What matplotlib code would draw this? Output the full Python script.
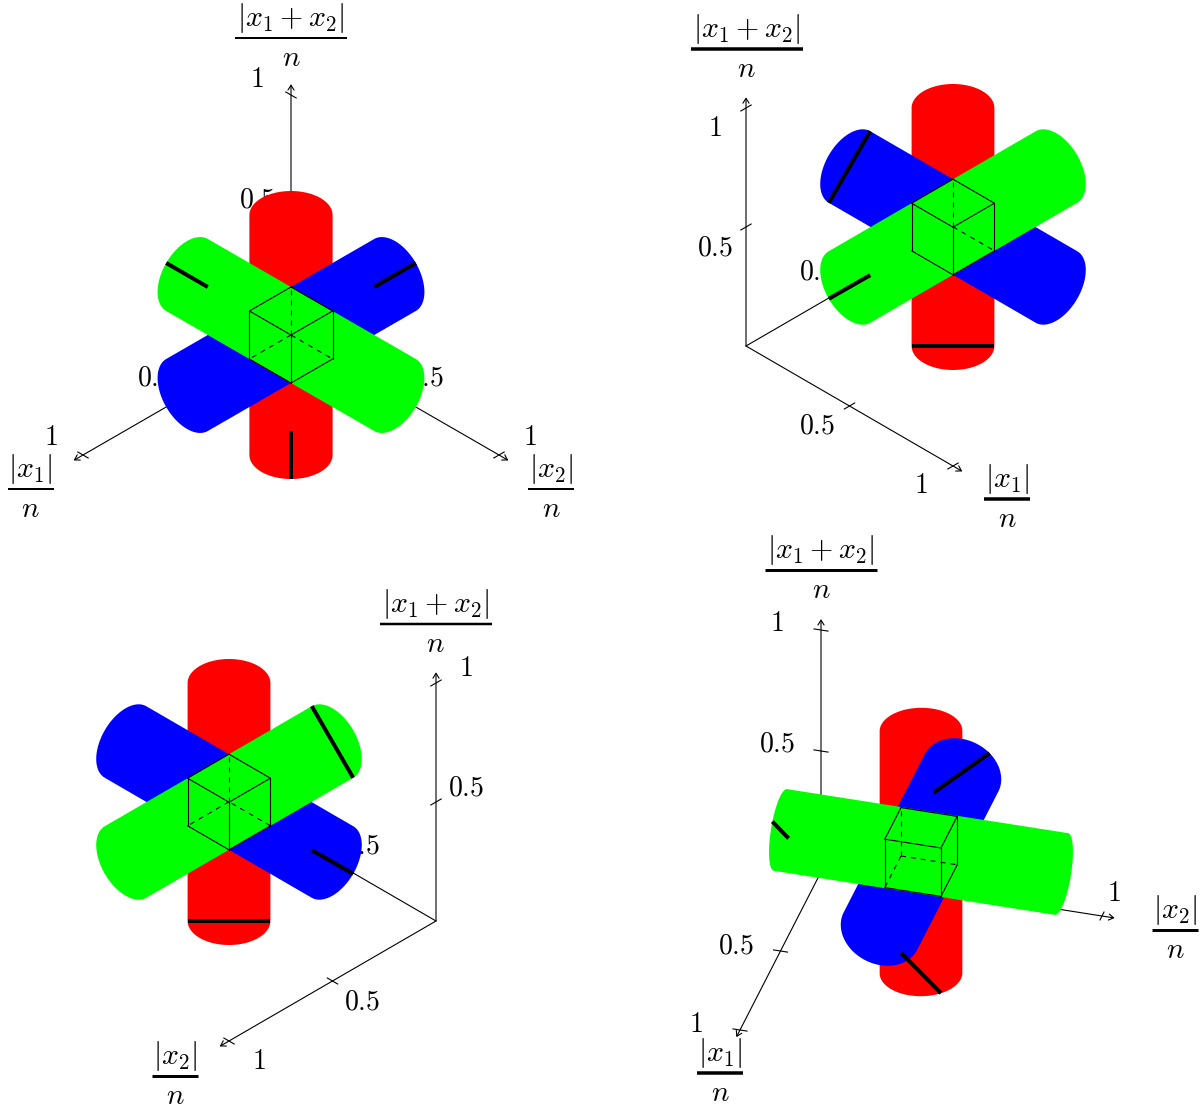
import numpy as np
import matplotlib
matplotlib.use('Agg')
import matplotlib.pyplot as plt

plt.rcParams['mathtext.fontset'] = 'cm'

# Model: cube in the middle of the unit box, three cylinders through it
cube_lo = 0.4
cube_hi = 0.6
cyl_radius = 0.1 * np.sqrt(2)
axis_end = 1.045
tick_vals = [0.5, 1.0]
tick_half = 0.025
cyl_colors = ['#0000ff', '#00ff00', '#ff0000']   # along x1, x2, x1+x2
draw_order = [2, 0, 1]

# Per panel view, in pixels: origin and the image of each unit vector
origins = [(291, 335), (746, 346), (436, 921), (821, 872)]
ex = [(-208, 120), (207, 120), (-207, -120), (-81, 158)]
ey = [(208, 120), (207, -120), (-207, 120), (281, 44)]
ez = [(0, -240), (0, -238), (0, -238), (0, -242)]
hidden_vertex = [(0.4, 0.4, 0.4), (0.4, 0.6, 0.4), (0.6, 0.4, 0.4), (0.4, 0.4, 0.4)]
hidden_edges = [[0, 1, 2], [0, 2], [0, 1, 2], [0, 1, 2]]

# Label positions: offset of tick labels from their tick, fraction bar centres
tick_offsets = [
    [(-32, -18), (31, -18), (-34, -16)],
    [(-32, 19), (-32, -15), (-31, 20)],
    [(30, -15), (30, 20), (30, -15)],
    [(-44, -6), (12, -23), (-44, -7)],
]
title_x1 = [(30.5, 489), (1007, 499), (220, 770), (720, 1073)]
title_x2 = [(551, 489), (985, 230), (175, 1076), (1175, 930)]
title_z = [(291, 38), (746.5, 49), (435.5, 624), (821, 570)]
bar_px_x1 = [2, 3.5, 2, 3.5]
bar_px_x2 = [2, 2, 3, 3]
bar_px_z = [2, 3.5, 2.5, 3]

num_x1 = r'$|x_1|$'
num_x2 = r'$|x_2|$'
num_z = r'$|x_1+x_2|$'
den = r'$n$'
num_width = [46, 46, 112]


def hull(pts):
    pts = sorted(map(tuple, pts))
    def half(seq):
        out = []
        for p in seq:
            while len(out) > 1:
                a, b = out[-2], out[-1]
                if (b[0]-a[0])*(p[1]-a[1]) - (b[1]-a[1])*(p[0]-a[0]) > 0:
                    break
                out.pop()
            out.append(p)
        return out[:-1]
    return np.array(half(pts) + half(pts[::-1]))


fig = plt.figure(figsize=(12.04, 11.08), dpi=100)
ax = fig.add_axes([0, 0, 1, 1])
ax.set_xlim(0, 1204)
ax.set_ylim(1108, 0)
ax.axis('off')

for i in range(4):
    O = np.array(origins[i], float)
    basis = np.array([ex[i], ey[i], ez[i]], float)

    def proj(p):
        return O + np.asarray(p, float) @ basis

    # axes, arrows, ticks, labels sit under the cylinders
    cross = [1, 0, 1]   # tick direction for each axis
    for k in range(3):
        tip = np.zeros(3)
        tip[k] = axis_end
        ax.annotate('', xy=proj(tip), xytext=proj([0, 0, 0]), zorder=1,
                    arrowprops=dict(arrowstyle='->,head_length=0.35,head_width=0.22',
                                    lw=0.8, color='black', shrinkA=0, shrinkB=0))
        for val in tick_vals:
            p = np.zeros(3)
            p[k] = val
            d = np.zeros(3)
            d[cross[k]] = tick_half
            a, b = proj(p - d), proj(p + d)
            ax.plot([a[0], b[0]], [a[1], b[1]], color='black', lw=0.8, zorder=1)
            c = proj(p) + np.array(tick_offsets[i][k])
            txt = '$0.5$' if val == 0.5 else '$1$'
            ax.text(c[0], c[1], txt, fontsize=20, ha='center', va='center', zorder=1)

    titles = zip([title_x1[i], title_x2[i], title_z[i]], [num_x1, num_x2, num_z],
                 [bar_px_x1[i], bar_px_x2[i], bar_px_z[i]], num_width)
    for pos, num, thick, w in titles:
        ax.text(pos[0], pos[1] - 20, num, fontsize=21.5, ha='center', va='center', zorder=1)
        ax.plot([pos[0] - w/2, pos[0] + w/2], [pos[1], pos[1]], color='black',
                lw=thick*0.72, solid_capstyle='butt', zorder=1)
        ax.text(pos[0], pos[1] + 20, den, fontsize=21, ha='center', va='center', zorder=1)

    # cylinders: silhouette is the hull of the two end circles
    t = np.linspace(0, 2*np.pi, 120, endpoint=False)
    for k in draw_order:
        others = [j for j in range(3) if j != k]
        pts = []
        for end in (0.0, 1.0):
            p = np.full((t.size, 3), 0.5)
            p[:, k] = end
            p[:, others[0]] += cyl_radius*np.cos(t)
            p[:, others[1]] += cyl_radius*np.sin(t)
            pts.append(proj(p))
        h = hull(np.vstack(pts))
        ax.fill(h[:, 0], h[:, 1], color=cyl_colors[k], lw=0, zorder=3)

    # thick diagonal on the end cap at 0 of each cylinder
    for k in range(3):
        a = np.full(3, cube_lo)
        b = np.full(3, cube_hi)
        a[k] = b[k] = 0
        a, b = proj(a), proj(b)
        ax.plot([a[0], b[0]], [a[1], b[1]], color='black', lw=2.9,
                solid_capstyle='butt', zorder=4)

    # cube
    hv = np.array(hidden_vertex[i])
    for c1 in (cube_lo, cube_hi):
        for c2 in (cube_lo, cube_hi):
            for k in range(3):
                others = [j for j in range(3) if j != k]
                a = np.zeros(3)
                a[others[0]] = c1
                a[others[1]] = c2
                a[k] = cube_lo
                b = a.copy()
                b[k] = cube_hi
                touches = np.allclose(a, hv) or np.allclose(b, hv)
                if touches and k not in hidden_edges[i]:
                    continue
                pa, pb = proj(a), proj(b)
                if touches:
                    ax.plot([pa[0], pb[0]], [pa[1], pb[1]], color='black', lw=0.8,
                            dashes=(4.5, 4.5), zorder=5)
                else:
                    ax.plot([pa[0], pb[0]], [pa[1], pb[1]], color='black', lw=0.8,
                            solid_capstyle='round', zorder=5)

fig.savefig('out.png', dpi=100)
